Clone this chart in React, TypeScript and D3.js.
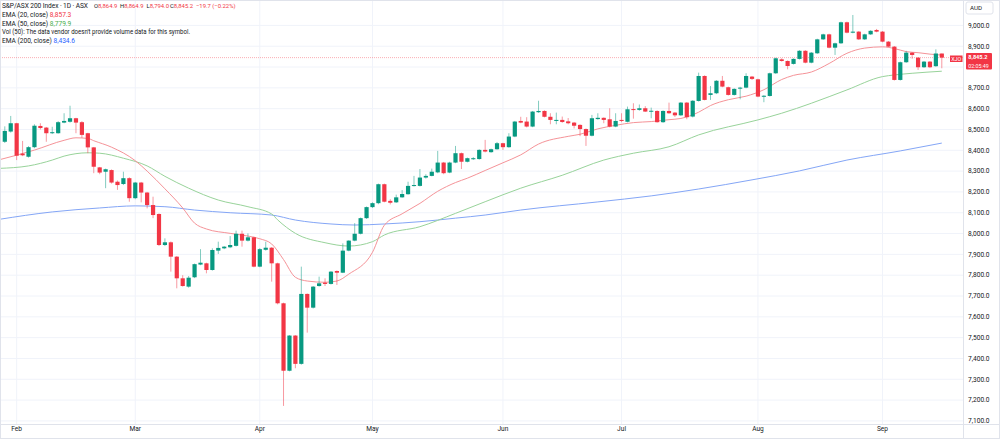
import React from "react";
import * as d3 from "d3";

// daily candles, index 0 = 30 Jan 2025 ... 158 = 15 Sep 2025
const opens = [
  8441, 8490, 8530, 8384, 8369, 8415, 8517, 8509, 8482, 8482, 8533, 8537, 8554, 8535, 8482, 8414, 8318, 8297, 8305, 8249,
  8238, 8266, 8170, 8245, 8197, 8137, 8094, 7945, 7958, 7889, 7785, 7745, 7790, 7851, 7857, 7825, 7918, 7929, 7934, 7941,
  7999, 7966, 7982, 7841, 7922, 7932, 7857, 7665, 7341, 7510, 7374, 7710, 7644, 7748, 7764, 7758, 7820, 7812, 7918, 7966,
  7999, 8074, 8127, 8146, 8237, 8157, 8150, 8174, 8189, 8229, 8229, 8269, 8277, 8294, 8341, 8293, 8341, 8386, 8345, 8357,
  8358, 8402, 8391, 8405, 8434, 8415, 8466, 8541, 8538, 8514, 8583, 8589, 8561, 8541, 8546, 8539, 8533, 8522, 8502, 8470,
  8550, 8556, 8549, 8514, 8546, 8537, 8598, 8594, 8602, 8586, 8589, 8535, 8589, 8581, 8568, 8629, 8562, 8637, 8757, 8666,
  8674, 8734, 8703, 8666, 8696, 8701, 8754, 8741, 8658, 8661, 8770, 8837, 8829, 8815, 8839, 8878, 8821, 8866, 8933, 8957,
  8893, 8914, 9015, 8965, 8970, 8933, 8957, 8978, 8970, 8922, 8898, 8738, 8823, 8869, 8845, 8799, 8826, 8804, 8864.9,
];
const highs = [
  8515, 8565, 8532, 8445, 8420, 8525, 8530, 8512, 8513, 8540, 8578, 8614, 8556, 8540, 8484, 8416, 8320, 8312, 8308, 8255,
  8297, 8270, 8248, 8248, 8200, 8177, 8097, 7977, 7962, 7892, 7800, 7796, 7856, 7925, 7860, 7929, 7961, 7940, 7988, 8014,
  8014, 8001, 7985, 7930, 7961, 7935, 7860, 7668, 7512, 7512, 7841, 7712, 7748, 7793, 7785, 7820, 7823, 7953, 7968, 8050,
  8077, 8130, 8150, 8240, 8240, 8165, 8187, 8209, 8249, 8277, 8310, 8285, 8312, 8397, 8344, 8345, 8421, 8389, 8365, 8367,
  8405, 8450, 8408, 8440, 8436, 8482, 8541, 8561, 8559, 8589, 8638, 8592, 8578, 8581, 8562, 8555, 8536, 8525, 8505, 8570,
  8578, 8558, 8602, 8578, 8578, 8610, 8626, 8620, 8612, 8605, 8592, 8592, 8629, 8584, 8632, 8632, 8641, 8773, 8760, 8709,
  8737, 8757, 8706, 8698, 8705, 8770, 8757, 8744, 8665, 8773, 8845, 8842, 8832, 8842, 8881, 8881, 8872, 8936, 8960, 8960,
  8917, 9018, 9018, 9050, 8973, 8960, 8977, 8983, 8973, 8925, 8901, 8826, 8878, 8872, 8848, 8829, 8829, 8885, 8864.9,
];
const lows = [
  8435, 8485, 8353, 8372, 8365, 8410, 8500, 8441, 8478, 8480, 8530, 8533, 8482, 8460, 8386, 8290, 8285, 8218, 8240, 8210,
  8233, 8153, 8165, 8150, 8121, 8074, 7940, 7940, 7817, 7737, 7745, 7740, 7786, 7848, 7809, 7822, 7902, 7925, 7930, 7938,
  7937, 7962, 7838, 7838, 7918, 7769, 7660, 7172, 7338, 7353, 7370, 7524, 7640, 7745, 7748, 7755, 7753, 7810, 7915, 7963,
  7996, 8070, 8123, 8141, 8150, 8140, 8147, 8172, 8187, 8226, 8226, 8264, 8275, 8290, 8285, 8290, 8338, 8310, 8342, 8354,
  8355, 8390, 8388, 8403, 8402, 8412, 8463, 8530, 8510, 8511, 8580, 8558, 8525, 8525, 8532, 8525, 8505, 8468, 8421, 8467,
  8547, 8530, 8510, 8511, 8535, 8534, 8552, 8590, 8584, 8554, 8533, 8532, 8575, 8560, 8565, 8549, 8558, 8634, 8640, 8642,
  8670, 8703, 8663, 8663, 8645, 8698, 8738, 8655, 8631, 8658, 8767, 8826, 8789, 8812, 8836, 8818, 8818, 8863, 8930, 8890,
  8858, 8911, 8962, 8962, 8930, 8930, 8954, 8967, 8919, 8895, 8735, 8735, 8820, 8840, 8786, 8796, 8795, 8801, 8794,
];
const closes = [
  8493, 8530, 8374, 8376, 8415, 8518, 8507, 8482, 8487, 8535, 8541, 8554, 8533, 8474, 8414, 8321, 8293, 8309, 8245, 8233,
  8266, 8170, 8245, 8197, 8137, 8089, 7945, 7958, 7889, 7785, 7748, 7788, 7853, 7860, 7825, 7921, 7931, 7937, 7945, 7999,
  7966, 7982, 7841, 7925, 7932, 7857, 7665, 7341, 7510, 7374, 7710, 7644, 7745, 7761, 7758, 7817, 7812, 7918, 7966, 7999,
  8074, 8127, 8146, 8237, 8153, 8148, 8174, 8190, 8229, 8233, 8269, 8277, 8297, 8341, 8290, 8341, 8386, 8345, 8362, 8362,
  8402, 8394, 8405, 8434, 8415, 8466, 8538, 8533, 8514, 8586, 8589, 8561, 8546, 8546, 8536, 8530, 8518, 8502, 8470, 8554,
  8556, 8546, 8514, 8541, 8541, 8597, 8594, 8602, 8586, 8590, 8535, 8589, 8578, 8568, 8629, 8559, 8638, 8757, 8642, 8674,
  8734, 8706, 8666, 8695, 8701, 8757, 8743, 8658, 8662, 8770, 8842, 8829, 8805, 8839, 8878, 8821, 8869, 8933, 8957, 8893,
  8914, 9015, 8965, 8970, 8933, 8957, 8974, 8970, 8922, 8898, 8738, 8823, 8869, 8858, 8799, 8826, 8799, 8865, 8845.2,
];

// moving averages: [candle index, value]
const ema20: [number, number][] = [
  [-1, 8354], [5, 8401], [10, 8448], [12, 8460], [14, 8457], [15, 8446], [18, 8415], [22, 8350], [24, 8300], [27, 8215],
  [30, 8123], [32, 8050], [34, 8022], [38, 8001], [41, 7988], [43, 7975], [45, 7950], [47, 7875], [49, 7790], [51, 7772],
  [54, 7766], [56, 7772], [58, 7805], [62, 7910], [64, 8040], [67, 8095], [70, 8145], [73, 8203], [76, 8245], [78, 8266],
  [81, 8303], [84, 8340], [87, 8378], [90, 8430], [95, 8467], [97, 8477], [100, 8503], [103, 8520], [106, 8533], [109, 8538],
  [112, 8547], [114, 8553], [117, 8583], [119, 8615], [122, 8643], [125, 8660], [128, 8691], [131, 8740], [133, 8760],
  [136, 8776], [139, 8817], [142, 8866], [145, 8891], [148, 8897], [150, 8889], [152, 8874], [154, 8869], [156, 8862],
  [158, 8857.3],
];
const ema50: [number, number][] = [
  [-1, 8313], [4, 8325], [8, 8353], [10, 8372], [14, 8388], [16, 8386], [20, 8362], [24, 8325], [27, 8275], [31, 8218],
  [36, 8161], [41, 8129], [45, 8094], [46, 8066], [49, 8001], [54, 7956], [58, 7940], [62, 7961], [64, 7993], [70, 8033],
  [76, 8097], [81, 8153], [87, 8218], [94, 8280], [101, 8353], [106, 8386], [112, 8417], [117, 8474], [127, 8546],
  [131, 8578], [136, 8626], [142, 8690], [148, 8754], [150, 8762], [153, 8770], [158, 8779.9],
];
const ema200: [number, number][] = [
  [-1, 8068], [8, 8104], [16, 8123], [22, 8133], [27, 8129], [32, 8113], [38, 8100], [45, 8089], [49, 8065], [55, 8046],
  [59, 8041], [64, 8046], [70, 8057], [76, 8074], [81, 8089], [87, 8113], [100, 8152], [109, 8181], [117, 8214],
  [126, 8258], [134, 8301], [142, 8353], [151, 8397], [158, 8434.6],
];

const monthLabels = ["Feb", "Mar", "Apr", "May", "Jun", "Jul", "Aug", "Sep"];
const monthIdx = [2, 22, 43, 62, 84, 104, 127, 148];
const priceTicks = [
  7100, 7200, 7300, 7400, 7500, 7600, 7700, 7800, 7900, 8000,
  8100, 8200, 8300, 8400, 8500, 8600, 8700, 8800, 8900, 9000,
];

const UP = "#089981";
const DOWN = "#f23645";
const TXT = "#131722";
const FONT = "Roboto, 'Liberation Sans', sans-serif";

const plotRight = 963;
const plotBottom = 424;

const fmt = d3.format(",.1f");

const App = () => {
  const x = d3.scaleLinear().domain([0, 158]).range([4.8, 941.8]);
  const y = d3.scaleLinear().domain([7100, 9000]).range([420.9, 25.4]);
  const line = d3
    .line<[number, number]>()
    .x((d) => x(d[0]))
    .y((d) => y(d[1]))
    .curve(d3.curveMonotoneX);

  const bw = 4.2;
  const last = closes[closes.length - 1];
  // the last-price badge covers the axis label next to it
  const axisTicks = priceTicks.filter((p) => Math.abs(y(p) - y(last)) > 11);

  return (
    <svg
      width={1000}
      height={439}
      style={{ position: "absolute", left: 0, top: 0, background: "#fff" }}
      fontFamily={FONT}
    >
      <defs>
        <clipPath id="plot">
          <rect x={0} y={0} width={plotRight} height={plotBottom} />
        </clipPath>
      </defs>

      {/* grid */}
      {priceTicks.map((p) => (
        <line key={p} x1={0} x2={plotRight} y1={y(p)} y2={y(p)} stroke="#f0f3fa" />
      ))}
      {monthIdx.map((m) => (
        <line key={m} x1={x(m)} x2={x(m)} y1={0} y2={plotBottom} stroke="#f0f3fa" />
      ))}

      <g clipPath="url(#plot)">
        {/* last price line */}
        <line
          x1={0}
          x2={plotRight}
          y1={y(last)}
          y2={y(last)}
          stroke={DOWN}
          strokeOpacity={0.4}
          strokeDasharray="1,1"
        />
        <path d={line(ema200) || ""} fill="none" stroke="#84a6f6" strokeWidth={1} />
        <path d={line(ema50) || ""} fill="none" stroke="#98d39a" strokeWidth={1} />
        <path d={line(ema20) || ""} fill="none" stroke="#f59398" strokeWidth={1} />

        {closes.map((c, i) => {
          const o = opens[i];
          const col = c >= o ? UP : DOWN;
          const top = y(Math.max(o, c));
          const bot = y(Math.min(o, c));
          return (
            <g key={i}>
              <line
                x1={x(i)}
                x2={x(i)}
                y1={y(highs[i])}
                y2={y(lows[i])}
                stroke={col}
                strokeOpacity={0.5}
              />
              <rect x={x(i) - bw / 2} y={top} width={bw} height={Math.max(1, bot - top)} fill={col} />
            </g>
          );
        })}
      </g>

      {/* axes frame */}
      <line x1={plotRight + 0.5} x2={plotRight + 0.5} y1={0} y2={439} stroke="#e0e3eb" />
      <line x1={0} x2={1000} y1={plotBottom + 0.5} y2={plotBottom + 0.5} stroke="#e0e3eb" />
      <rect x={0.5} y={0.5} width={999} height={438} fill="none" stroke="#e0e3eb" />

      {axisTicks.map((p) => (
        <text key={p} x={968} y={y(p)} dy="0.35em" fontSize={6.6} fill={TXT}>
          {fmt(p)}
        </text>
      ))}
      {monthLabels.map((m, i) => (
        <text key={m} x={x(monthIdx[i])} y={431} textAnchor="middle" fontSize={6.6} fill={TXT}>
          {m}
        </text>
      ))}

      {/* currency */}
      <rect x={966} y={2} width={27} height={12} rx={2} fill="#fff" stroke="#e0e3eb" />
      <text x={970} y={10.3} fontSize={6.2} fill={TXT}>
        AUD
      </text>

      {/* last price labels */}
      <rect x={950} y={55.5} width={12.5} height={6.5} fill={DOWN} />
      <text x={956.2} y={60.6} textAnchor="middle" fontSize={5.4} fill="#fff">
        XJO
      </text>
      <rect x={966} y={53} width={26} height={16.5} rx={1} fill={DOWN} />
      <text x={968.3} y={59.3} fontSize={5.6} fill="#fff" fontWeight="bold">
        {fmt(last)}
      </text>
      <text x={968.3} y={67.6} fontSize={5.3} fill="#fff">
        02:05:49
      </text>

      {/* legend */}
      <g fontSize={6.6} fill={TXT}>
        <text x={2} y={8.3} textLength={86} lengthAdjust="spacing">
          S&amp;P/ASX 200 Index · 1D · ASX
        </text>
        <g fontSize={5.9}>
          <text x={94} y={8.3}>
            O<tspan fill={DOWN}>8,864.9</tspan>
          </text>
          <text x={120} y={8.3}>
            H<tspan fill={DOWN}>8,864.9</tspan>
          </text>
          <text x={146.5} y={8.3}>
            L<tspan fill={DOWN}>8,794.0</tspan>
          </text>
          <text x={170} y={8.3}>
            C<tspan fill={DOWN}>8,845.2</tspan>
          </text>
          <text x={196} y={8.3} fill={DOWN}>
            −19.7 (−0.22%)
          </text>
        </g>
        <text x={2} y={17.2}>
          EMA (20, close) <tspan fill="#f23645">8,857.3</tspan>
        </text>
        <text x={2} y={25.8}>
          EMA (50, close) <tspan fill="#4caf50">8,779.9</tspan>
        </text>
        <text x={2} y={34.3} textLength={188} lengthAdjust="spacingAndGlyphs">
          Vol (50): The data vendor doesn't provide volume data for this symbol.
        </text>
        <text x={2} y={42.9}>
          EMA (200, close) <tspan fill="#2962ff">8,434.6</tspan>
        </text>
      </g>
    </svg>
  );
};

export default App;
